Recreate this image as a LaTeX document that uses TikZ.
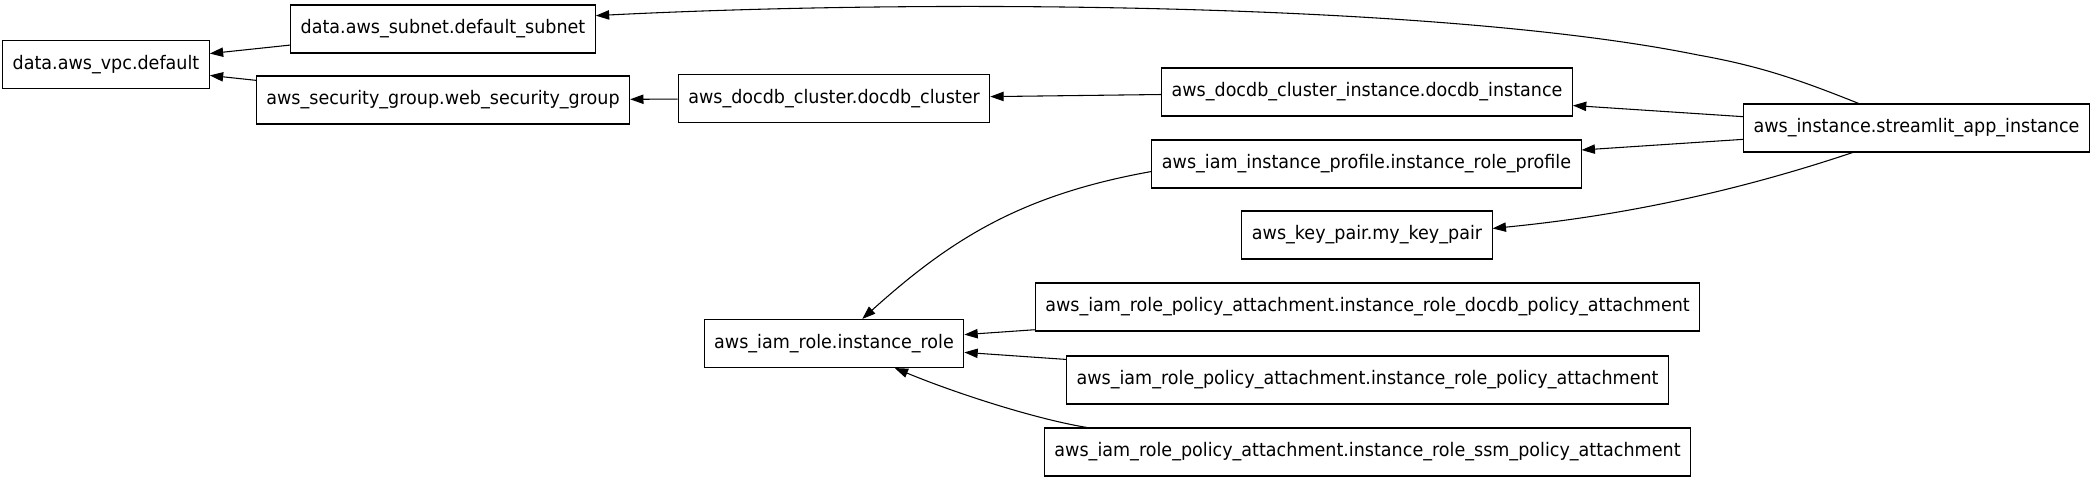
\documentclass[tikz,border=0pt]{standalone}
\usepackage{fontspec}
\setmainfont{DejaVu Sans}[FakeStretch=0.94]
\usetikzlibrary{arrows.meta}

\begin{document}
\begin{tikzpicture}[x=0.75pt, y=-0.75pt,
  res/.style={draw, line width=0.8pt, rectangle, minimum height=36pt,
              inner xsep=7.5pt, font=\fontsize{14pt}{16pt}\selectfont},
  dep/.style={draw, line width=0.8pt, -{Triangle[length=10pt, width=7pt]}}]
  \useasboundingbox (0,0) rectangle (2096,483);
  % data sources and network
  \node[res] (vpc) at (106,64.5) {data.aws\_vpc.default};
  \node[res] (subnet) at (443,29) {data.aws\_subnet.default\_subnet};
  \node[res] (secgroup) at (443,100) {aws\_security\_group.web\_security\_group};
  \node[res] (cluster) at (834,98.5) {aws\_docdb\_cluster.docdb\_cluster};
  \node[res] (role) at (834,343.5) {aws\_iam\_role.instance\_role};
  % rank of the instance dependencies
  \node[res] (dbinst) at (1367,92) {aws\_docdb\_cluster\_instance.docdb\_instance};
  \node[res] (profile) at (1366.5,164) {aws\_iam\_instance\_profile.instance\_role\_profile};
  \node[res] (keypair) at (1367,235) {aws\_key\_pair.my\_key\_pair};
  \foreach \nm/\y/\sfx in {docdbpol/307/docdb\_policy, rolepol/380/policy, ssmpol/452/ssm\_policy}{
    \node[res] (\nm) at (1367.5,\y) {aws\_iam\_role\_policy\_attachment.instance\_role\_\sfx\_attachment};
  }
  \node[res] (app) at (1916.5,128) {aws\_instance.streamlit\_app\_instance};

  % straight dependencies
  \foreach \a/\b in {subnet/vpc, secgroup/vpc, cluster/secgroup, dbinst/cluster,
                     app/dbinst, app/profile, docdbpol/role, rolepol/role}{
    \draw[dep] (\a) -- (\b);
  }
  % curved ones
  \draw[dep] (app.157) .. controls (1800,80) and (1760,66) .. (1698,55)
    .. controls (1448,4) and (946,-2) .. (subnet.5);
  \draw[dep] (app.201.5) .. controls (1735,192) and (1620,216) .. (keypair.3);
  \draw[dep] (profile.182.4) .. controls (1020,195) and (950,240) .. (role.41);
  \draw[dep] (ssmpol.175) .. controls (1040,420) and (960,395) .. (role.-22);
\end{tikzpicture}
\end{document}
